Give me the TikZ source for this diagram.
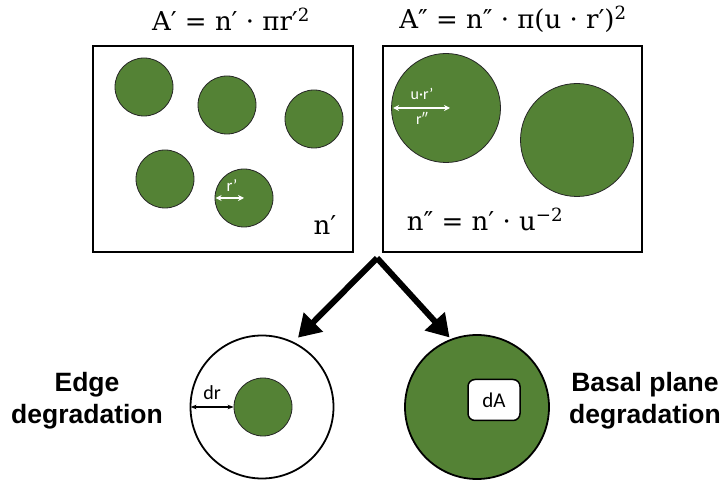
\documentclass[tikz,border=0pt]{standalone}
\usepackage{fontspec}
\setsansfont{Liberation Sans}
\newfontfamily\labelfont{Carlito}
\newfontfamily\eqfont{DejaVu Serif}
\usepackage{tikz}
\usetikzlibrary{arrows.meta, positioning}
\definecolor{flakegreen}{RGB}{84,130,53}
\tikzset{
  flake/.style={circle, draw=black!85, line width=0.8pt, fill=flakegreen, inner sep=0pt},
  panel/.style={draw=black, line width=2pt},
  bigarrow/.style={line width=6pt, -{Triangle[length=22pt, width=26pt]}},
  whitearrow/.style={draw=white, line width=1.6pt, {Stealth[length=6pt, width=6pt]}-{Stealth[length=6pt, width=6pt]}},
  eqtext/.style={font=\eqfont\fontsize{26}{30}\selectfont},
  boldtext/.style={font=\fontsize{26.5}{32}\selectfont\sffamily\bfseries, align=center},
}

\begin{document}
\begin{tikzpicture}[x=1pt, y=-1pt]
    \useasboundingbox (0,0) rectangle (724,481);

    \node[eqtext] (titleA) at (231, 19) {A′ = n′ · πr′\textsuperscript{2}};
    \node[eqtext] (titleB) at (513, 19) {A″ = n″ · π(u · r′)\textsuperscript{2}};

    \draw[panel] (93, 46) rectangle (353, 252);
    \draw[panel] (383, 46) rectangle (642, 252);

    \node[flake, minimum size=58pt] (f1) at (144, 87) {};
    \node[flake, minimum size=58pt] (f2) at (227, 105) {};
    \node[flake, minimum size=58pt] (f3) at (314, 119) {};
    \node[flake, minimum size=58pt] (f4) at (165, 179) {};
    \node[flake, minimum size=58pt] (f5) at (244, 198) {};
    \draw[whitearrow, shorten <=1pt] (f5.west) -- (f5.center);
    \node[font=\labelfont\fontsize{17}{19}\selectfont, text=white] (rlab) at (232, 186) {r’};
    \node[eqtext, font=\eqfont\fontsize{26}{30}\selectfont] (ncount) at (325, 225) {n′};

    \node[flake, minimum size=109pt] (g1) at (446, 108) {};
    \node[flake, minimum size=113pt] (g2) at (577, 140) {};
    \draw[whitearrow, shorten <=2pt] (g1.west) -- ([xshift=4pt]g1.center);
    \node[font=\labelfont\fontsize{16}{18}\selectfont, text=white] (urlab) at (422, 94) {u·r’};
    \node[font=\labelfont\fontsize{16}{18}\selectfont, text=white] (rrlab) at (422, 118) {r″};
    \node[eqtext, font=\eqfont\fontsize{26}{30}\selectfont] (nscale) at (485, 219) {n″ = n′ · u\textsuperscript{−2}};

    \coordinate (fork) at (377, 258);
    \node[circle, draw=black, line width=1.8pt, fill=white, inner sep=0pt, minimum size=143pt] (edgering) at (262, 407) {};
    \node[flake, minimum size=58pt] (core) at (263, 407) {};
    \draw[{Stealth[length=6pt]}-{Stealth[length=6pt]}, line width=1.4pt, shorten <=1pt] (edgering.west) -- (core.west);
    \node[font=\labelfont\fontsize{20}{22}\selectfont] (drlab) at (212, 393) {dr};

    \node[flake, draw=black, line width=1.8pt, minimum size=144pt] (basal) at (477, 407) {};
    \node[draw=black, fill=white, rounded corners=7pt, line width=1.5pt, minimum width=52pt, minimum height=41pt, font=\labelfont\fontsize{21}{23}\selectfont] (dA) at (494, 400) {dA};

    \draw[bigarrow, shorten >=6pt] (fork) -- (edgering.64);
    \draw[bigarrow, shorten >=2pt] (fork) -- (basal.111);

    \node[boldtext] (edgelab) at (87, 401) {Edge\\degradation};
    \node[boldtext] (basallab) at (645, 401) {Basal plane\\degradation};
\end{tikzpicture}
\end{document}
